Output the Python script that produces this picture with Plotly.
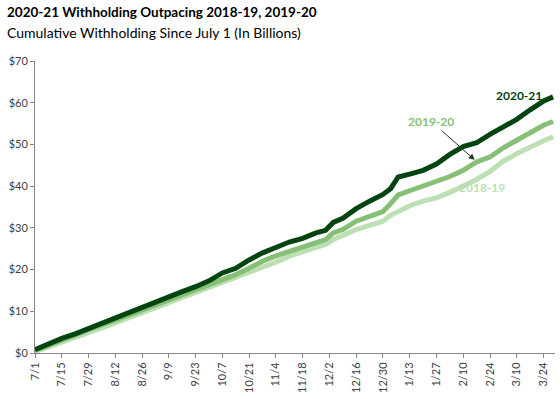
import pandas as pd
import plotly.graph_objects as go

# Days since July 1 (x positions of the readings)
days = [0, 7, 14, 21, 28, 35, 42, 49, 56, 63, 70, 77, 84, 91, 98, 105, 112, 119, 126, 133,
        140, 147, 152, 156, 161, 168, 175, 182, 186, 190, 196, 203, 210, 217, 224, 231,
        238, 245, 252, 259, 266, 271]

withholding_2020_21 = [0.8, 2.2, 3.5, 4.6, 5.9, 7.2, 8.3, 9.6, 11.0, 12.4, 13.6, 14.7, 15.9, 17.3,
                       19.2, 20.3, 22.3, 24.0, 25.3, 26.6, 27.5, 28.8, 29.4, 31.3, 32.3, 34.6,
                       36.4, 38.0, 39.4, 42.2, 42.9, 43.8, 45.3, 47.6, 49.5, 50.4, 52.4, 54.2,
                       56.0, 58.3, 60.4, 61.4]

withholding_2019_20 = [0.6, 1.9, 3.1, 4.3, 5.5, 6.8, 7.9, 9.1, 10.4, 11.6, 12.8, 13.9, 15.0, 16.2,
                       17.7, 18.8, 20.3, 22.0, 23.3, 24.4, 25.4, 26.5, 27.2, 28.8, 29.6, 31.6,
                       32.8, 33.9, 35.8, 37.9, 38.9, 40.0, 41.2, 42.3, 43.8, 45.8, 47.0, 49.2,
                       51.0, 52.8, 54.6, 55.5]

withholding_2018_19 = [0.3, 1.4, 2.5, 3.5, 4.8, 6.0, 7.2, 8.4, 9.6, 10.8, 11.9, 13.1, 14.3, 15.5,
                       16.8, 18.0, 19.3, 20.6, 21.8, 23.2, 24.1, 25.3, 26.0, 27.2, 28.2, 29.6,
                       30.6, 31.6, 33.0, 34.0, 35.3, 36.4, 37.2, 38.5, 40.0, 41.6, 43.5, 46.0,
                       47.8, 49.4, 50.9, 51.8]

series_names = ["2018-19", "2019-20", "2020-21"]
series_colors = ["#bcdfb4", "#86bf75", "#00450f"]

title_text = "2020-21 Withholding Outpacing 2018-19, 2019-20"
subtitle_text = "Cumulative Withholding Since July 1 (In Billions)"

start = pd.Timestamp("2020-07-01")
dates = [start + pd.Timedelta(days=d) for d in days]

fig = go.Figure()
for name, vals, col in zip(series_names,
                           [withholding_2018_19, withholding_2019_20, withholding_2020_21],
                           series_colors):
    fig.add_trace(go.Scatter(x=dates, y=vals, mode="lines", name=name,
                             line=dict(color=col, width=5), showlegend=False,
                             hoverinfo="skip"))

font_family = "Lato, 'Open Sans', Arial, sans-serif"

def d(n):
    return start + pd.Timedelta(days=n)

fig.add_annotation(x=d(253), y=61.8, text="<b>2020-21</b>", showarrow=False,
                   font=dict(color="#00450f", size=12, family=font_family))
fig.add_annotation(x=d(207), y=55.6, text="<b>2019-20</b>", showarrow=False,
                   font=dict(color="#86bf75", size=12, family=font_family))
fig.add_annotation(x=d(230), y=46.3, ax=d(212), ay=53.6, axref="x", ayref="y",
                   xref="x", yref="y", text="", showarrow=True, arrowhead=2,
                   arrowsize=1.2, arrowwidth=1, arrowcolor="#1f3d1f")
fig.add_annotation(x=d(234), y=39.6, text="<b>2018-19</b>", showarrow=False,
                   font=dict(color="#bcdfb4", size=12, family=font_family))

# Title and subtitle
fig.add_annotation(xref="paper", yref="paper", x=-0.058, y=1.168, xanchor="left",
                   yanchor="middle", text="<b>" + title_text + "</b>", showarrow=False,
                   font=dict(size=13.5, color="#000000", family=font_family))
fig.add_annotation(xref="paper", yref="paper", x=-0.058, y=1.099, xanchor="left",
                   yanchor="middle", text=subtitle_text, showarrow=False,
                   font=dict(size=14, color="#000000", family=font_family))

fig.update_layout(
    width=560, height=399,
    margin=dict(l=35, r=5, t=61, b=46),
    plot_bgcolor="white", paper_bgcolor="white",
    font=dict(family=font_family, color="#404040"),
    xaxis=dict(
        range=[d(0), d(272)], type="date",
        tick0=d(0), dtick=14 * 24 * 3600 * 1000, tickformat="%-m/%-d",
        tickangle=-90, tickfont=dict(size=11, color="#404040"),
        showgrid=False, showline=True, linecolor="#888888", linewidth=1,
        ticks="outside", ticklen=4, tickcolor="#888888", zeroline=False),
    yaxis=dict(
        range=[0, 70], dtick=10, tickprefix="$",
        tickfont=dict(size=11, color="#404040"),
        showgrid=False, showline=True, linecolor="#888888", linewidth=1,
        ticks="outside", ticklen=4, tickcolor="#888888", zeroline=False),
)

fig.write_html("out.html", config={"displayModeBar": False},
               post_script="document.body.style.margin='0';document.body.style.overflow='hidden';")
